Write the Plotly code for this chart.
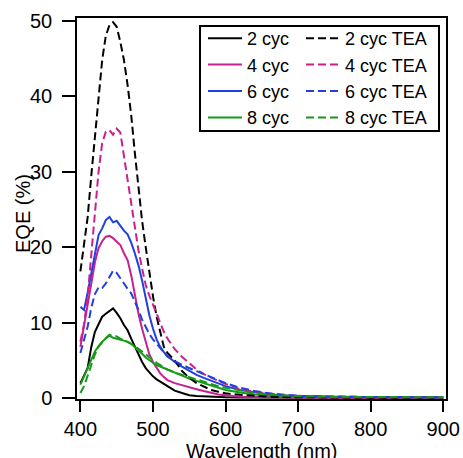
import plotly.graph_objects as go

wavelength = [400, 405, 410, 415, 420, 425, 430, 435, 440, 445, 450, 455, 460, 465, 470,
              475, 480, 485, 490, 495, 500, 505, 510, 515, 520,
              530, 540, 550, 560, 570, 580, 590, 600,
              620, 640, 660, 680, 700,
              750, 800, 850, 900]

cyc2 = [2.0, 3.0, 4.0, 6.8, 8.8, 9.8, 10.8, 11.2, 11.5, 11.9, 11.3, 10.6, 9.7, 9.0, 7.9,
        6.8, 5.8, 4.8, 4.0, 3.4, 2.9, 2.5, 2.2, 1.9, 1.7,
        1.0, 0.7, 0.4, 0.3, 0.25, 0.2, 0.15, 0.12,
        0.1, 0.1, 0.08, 0.08, 0.07,
        0.06, 0.05, 0.05, 0.05]
cyc2_tea = [16.8, 20.5, 24.0, 29.5, 34.5, 39.5, 44.8, 48.0, 49.4, 49.8, 49.2, 47.2, 44.8, 41.5, 37.5,
            32.5, 28.0, 23.5, 20.0, 16.5, 13.5, 10.8, 8.6, 6.8, 6.0,
            5.0, 3.6, 2.7, 2.0, 1.5, 1.1, 0.85, 0.65,
            0.45, 0.3, 0.2, 0.15, 0.12,
            0.1, 0.08, 0.08, 0.08]
cyc4 = [6.8, 9.5, 12.3, 15.3, 18.0, 19.9, 20.8, 21.4, 21.5, 21.2, 20.8, 20.3, 19.2, 18.3, 16.3,
        13.5, 11.2, 9.2, 7.3, 5.8, 4.8, 4.0, 3.3, 2.8, 2.4,
        2.0, 1.7, 1.4, 1.2, 0.95, 0.7, 0.5, 0.4,
        0.2, 0.15, 0.12, 0.1, 0.1,
        0.08, 0.07, 0.07, 0.07]
cyc4_tea = [7.5, 9.8, 13.5, 18.5, 24.5, 30.0, 33.8, 35.3, 35.5, 34.9, 35.7, 35.2, 32.0, 28.8, 25.8,
            22.6, 19.6, 17.2, 15.0, 13.6, 12.4, 11.0, 9.8, 8.8, 7.9,
            6.5, 5.5, 4.6, 3.8, 3.2, 2.7, 2.3, 1.9,
            1.2, 0.85, 0.6, 0.4, 0.3,
            0.2, 0.15, 0.12, 0.1]
cyc6 = [12.1, 11.7, 14.0, 16.5, 19.3, 21.6, 22.5, 23.6, 24.0, 23.3, 23.5, 22.8, 22.2, 21.7, 20.6,
        19.2, 17.6, 15.6, 13.3, 11.0, 9.2, 7.8, 6.8, 6.1, 5.6,
        4.8, 4.2, 3.6, 3.1, 2.7, 2.3, 1.9, 1.6,
        1.1, 0.75, 0.5, 0.35, 0.3,
        0.2, 0.15, 0.12, 0.12]
cyc6_tea = [6.0, 7.7, 9.5, 12.0, 13.8, 14.7, 14.6, 15.2, 16.0, 16.9, 16.6, 15.9, 15.1, 14.5, 13.9,
            12.9, 11.7, 10.4, 9.4, 8.5, 7.8, 7.2, 6.6, 6.0, 5.5,
            4.9, 4.4, 4.0, 3.6, 3.2, 2.8, 2.4, 2.0,
            1.4, 0.95, 0.65, 0.45, 0.3,
            0.2, 0.15, 0.12, 0.12]
cyc8 = [1.8, 2.9, 3.8, 5.1, 6.2, 6.9, 7.5, 7.9, 8.3, 8.0, 7.9, 7.7, 7.6, 7.5, 7.2,
        6.8, 6.4, 5.9, 5.4, 5.0, 4.7, 4.4, 4.2, 3.9, 3.7,
        3.3, 2.9, 2.6, 2.3, 2.0, 1.6, 1.3, 1.1,
        0.75, 0.5, 0.35, 0.25, 0.2,
        0.15, 0.12, 0.12, 0.12]
cyc8_tea = [0.7, 1.6, 3.0, 4.3, 5.8, 6.8, 7.4, 8.0, 8.4, 8.3, 8.2, 7.9, 7.7, 7.4, 7.2,
            6.9, 6.6, 6.2, 5.8, 5.4, 5.0, 4.7, 4.4, 4.1, 3.8,
            3.4, 3.1, 2.8, 2.5, 2.2, 1.9, 1.6, 1.4,
            1.0, 0.7, 0.5, 0.35, 0.25,
            0.18, 0.15, 0.12, 0.12]

labels = ["2 cyc", "4 cyc", "6 cyc", "8 cyc"]
labels_tea = ["2 cyc TEA", "4 cyc TEA", "6 cyc TEA", "8 cyc TEA"]
colors = ["#000000", "#C8208F", "#2040E0", "#189A18"]
solid_series = [cyc2, cyc4, cyc6, cyc8]
tea_series = [cyc2_tea, cyc4_tea, cyc6_tea, cyc8_tea]

x_ticks = [400, 500, 600, 700, 800, 900]
y_ticks = [0, 10, 20, 30, 40, 50]
x_title = "Wavelength (nm)"
y_title = "EQE (%)"

FONT = "Liberation Sans, Arial, sans-serif"
W, H = 463, 458
ML, MR, MT, MB = 77, 17, 18, 59
PW, PH = W - ML - MR, H - MT - MB

fig = go.Figure()
for name, ys, c in zip(labels, solid_series, colors):
    fig.add_trace(go.Scatter(x=wavelength, y=ys, mode="lines", name=name,
                             line=dict(color=c, width=2), legend="legend"))
for name, ys, c in zip(labels_tea, tea_series, colors):
    fig.add_trace(go.Scatter(x=wavelength, y=ys, mode="lines", name=name,
                             line=dict(color=c, width=2, dash="8px,4px"), legend="legend2"))

def px_x(p):
    return (p - ML) / PW

def px_y(p):
    return 1 - (p - MT) / PH

legend_common = dict(
    font=dict(family=FONT, size=18, color="black"),
    bgcolor="rgba(0,0,0,0)", borderwidth=0,
    itemwidth=34, xanchor="left", yanchor="top", tracegroupgap=0,
)

fig.update_layout(
    width=W, height=H,
    margin=dict(l=ML, r=MR, t=MT, b=MB, autoexpand=False),
    paper_bgcolor="white", plot_bgcolor="white",
    font=dict(family=FONT, size=20, color="black"),
    showlegend=True,
    legend=dict(x=px_x(203), y=px_y(20), **legend_common),
    legend2=dict(x=px_x(301), y=px_y(20), **legend_common),
    xaxis=dict(
        range=[395.3, 903.8], tickmode="array", tickvals=x_ticks,
        ticks="outside", ticklen=11, tickwidth=1.5, tickcolor="black",
        showline=True, linewidth=1.5, linecolor="black", mirror=True,
        showgrid=False, zeroline=False,
        tickfont=dict(family=FONT, size=20, color="black"),
    ),
    yaxis=dict(
        range=[-0.1, 50.36], tickmode="array", tickvals=y_ticks,
        ticks="outside", ticklen=13, tickwidth=1.5, tickcolor="black",
        ticklabelstandoff=6,
        showline=True, linewidth=1.5, linecolor="black", mirror=True,
        showgrid=False, zeroline=False,
        tickfont=dict(family=FONT, size=20, color="black"),
    ),
    annotations=[
        dict(text=y_title, xref="paper", yref="paper",
             x=px_x(23), y=px_y(214), xanchor="center", yanchor="middle",
             textangle=-90, showarrow=False,
             font=dict(family=FONT, size=20, color="black")),
        dict(text=x_title, xref="paper", yref="paper",
             x=px_x(262), y=px_y(451), xanchor="center", yanchor="middle",
             showarrow=False,
             font=dict(family=FONT, size=20, color="black")),
    ],
    shapes=[dict(type="rect", xref="paper", yref="paper",
                 x0=px_x(200), x1=px_x(439), y0=px_y(131), y1=px_y(26),
                 line=dict(color="black", width=2), fillcolor="rgba(0,0,0,0)", layer="above")],
)

fig.write_html("out.html", config={"displayModeBar": False},
               post_script="document.body.style.margin='0px';")
